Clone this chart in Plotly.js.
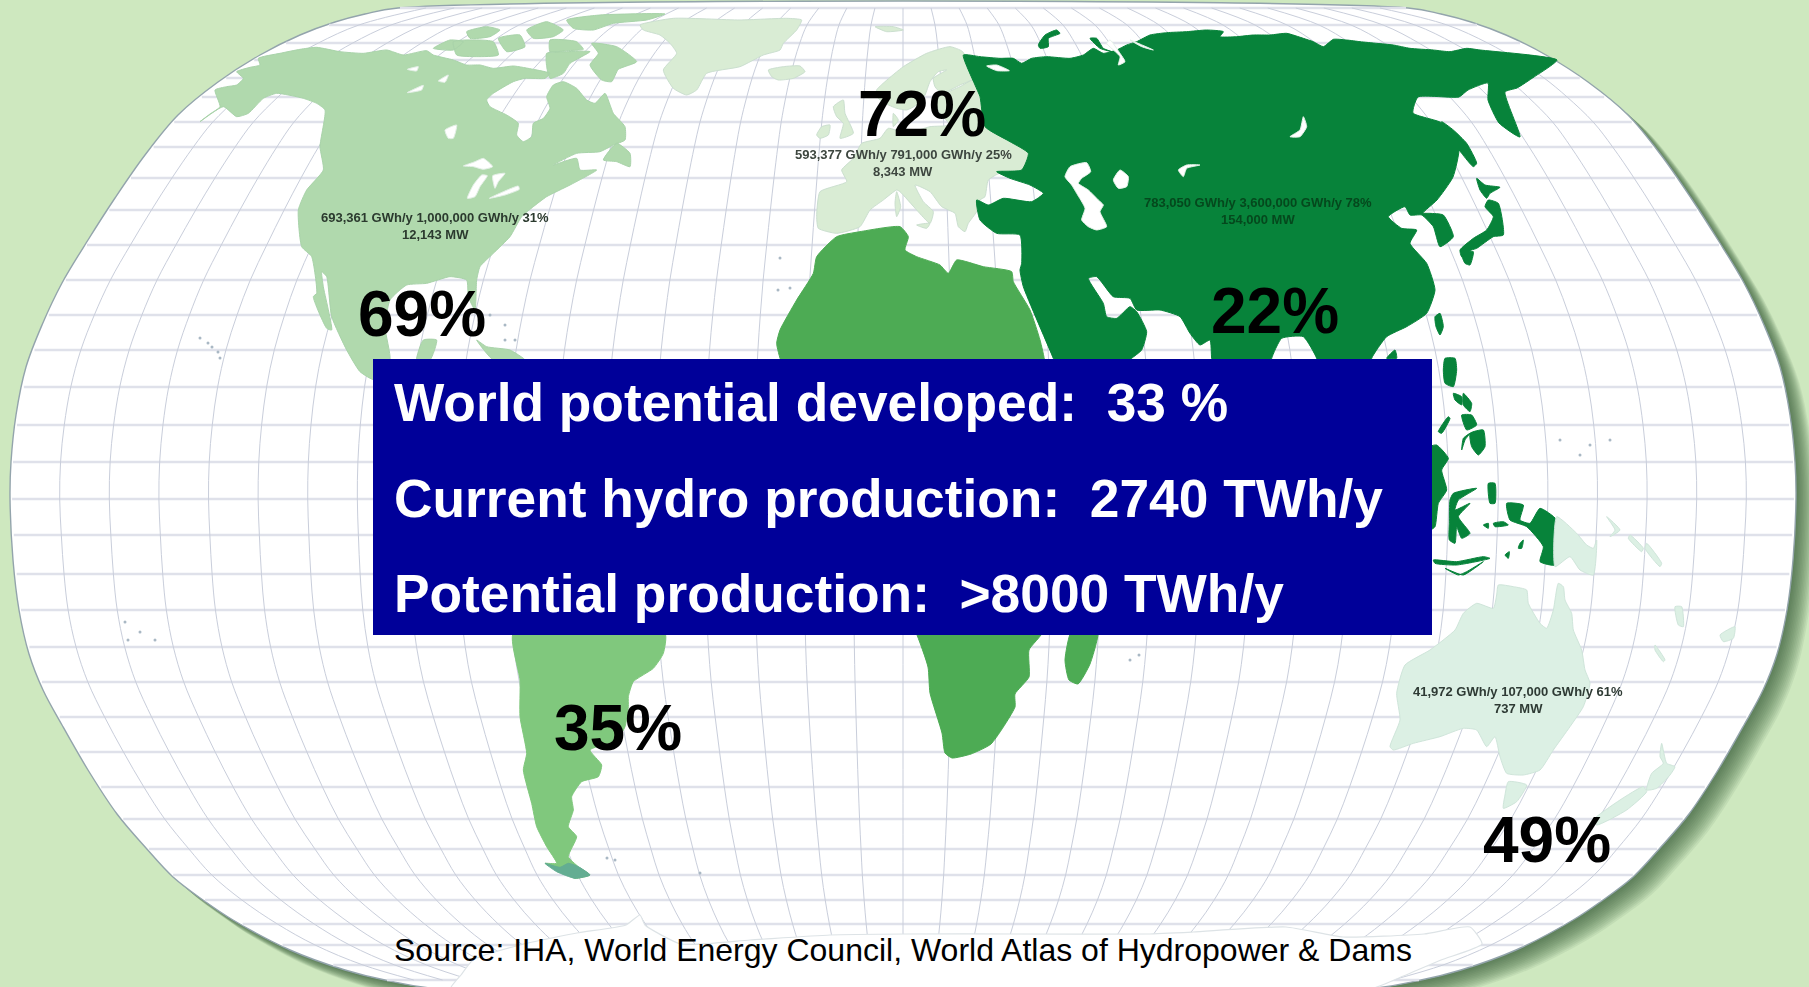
<!DOCTYPE html>
<html>
<head>
<meta charset="utf-8">
<title>World hydropower potential developed</title>
<script src="https://cdn.plot.ly/plotly-3.0.1.min.js"></script>
<style>
html,body{margin:0;padding:0;background:#cee8bf;overflow:hidden}
#map{width:1809px;height:987px}
</style>
</head>
<body>
<div id="map"></div>
<script>
// Outlines are digitised on sheets at 3 units per map unit; each sheet has its own origin.
const sheet = (ox, oy, pts) => pts.map(([x, y]) => [ox + x / 3, oy + y / 3]);

// Map frame: left edge of the rounded projection, top to bottom.
const frameLeft = [[398,8],[365,14],[335,22],[300,35],[260,55],[218,82],[178,115],[145,155],[115,198],[88,240],[62,283],[42,325],[26,367],[16,415],[11,462],[10,497],[13,560],[19,610],[29,654],[43,690],[62,725],[88,770],[117,814],[146,848],[173,877],[203,900],[233,920],[290,950],[345,970],[385,980],[450,990]];
const centreX = 903;
// Parallels, every 5 degrees.
const parallels = [8,25,43,60,78,97,122,147,178,210,245,280,315,350,387,425,462,499,535,574,610,647,682,717,752,787,819,849,875,900,924,945,965,980];
// Meridians, every 10 degrees.
const meridianLon = [-170,-160,-150,-140,-130,-120,-110,-100,-90,-80,-70,-60,-50,-40,-30,-20,-10,0,10,20,30,40,50,60,70,80,90,100,110,120,130,140,150,160,170];

const antarctica = [[450,990],[461,975],[473,960],[520,945],[577,933],[626,925],[640,915],[645,925],[681,944],[750,940],[830,935],[905,934],[1020,934],[1147,934],[1193,932],[1286,927],[1343,937],[1424,934],[1470,927],[1482,944],[1441,960],[1401,977],[1367,990]];

const northAmerica = [
  sheet(200,10,[[0,335],[30,312],[60,290],[45,240],[80,230],[110,225],[130,205],[110,185],[150,172],[180,165],[175,145],[240,130],[300,118],[350,112],[420,125],[490,130],[560,120],[610,135],[680,122],[700,135],[760,150],[800,165],[840,165],[880,175],[940,168],[1000,178],[1050,190],[1035,205],[975,205],[940,215],[880,250],[860,270],[870,290],[920,315],[955,340],[950,375],[970,395],[995,380],[1000,340],[1030,325],[1050,295],[1040,260],[1060,225],[1090,215],[1130,235],[1160,270],[1185,280],[1215,250],[1240,310],[1275,350],[1275,390],[1240,405],[1200,425],[1130,430],[1060,465],[1130,445],[1140,480],[1190,480],[1110,525],[1040,560],[1000,590],[965,620],[930,680],[880,730],[840,770],[830,810],[825,900],[805,860],[800,810],[750,800],[680,820],[620,825],[570,870],[555,950],[570,1050],[525,1110],[480,1085],[440,1020],[395,920],[380,800],[365,785],[370,830],[395,960],[380,955],[340,860],[350,850],[335,740],[305,710],[295,600],[320,540],[370,480],[360,410],[375,300],[350,280],[310,265],[230,250],[190,265],[145,310],[110,320],[70,290]]),
  // Arctic archipelago
  sheet(200,10,[[1175,100],[1250,110],[1310,155],[1255,178],[1235,215],[1205,210],[1170,165],[1195,130]]),
  sheet(200,10,[[1040,130],[1100,125],[1170,125],[1110,160],[1090,190],[1050,205],[1040,170]]),
  sheet(200,10,[[760,95],[880,95],[895,135],[830,140],[770,135]]),
  sheet(200,10,[[700,115],[750,90],[790,95],[760,120]]),
  sheet(200,10,[[800,65],[860,50],[900,60],[870,80],[810,85]]),
  sheet(200,10,[[895,85],[960,75],[975,110],[920,125]]),
  sheet(200,10,[[980,60],[1040,35],[1090,60],[1060,80],[1000,85]]),
  sheet(200,10,[[1050,90],[1130,95],[1150,118],[1100,122],[1050,125]]),
  sheet(200,10,[[1100,30],[1200,15],[1395,12],[1340,30],[1240,40],[1180,60],[1120,55]]),
  sheet(200,10,[[1210,450],[1250,400],[1290,430],[1290,470],[1250,455]]),
  sheet(200,10,[[650,1050],[670,990],[710,990],[690,1050]]),
  sheet(200,10,[[830,990],[860,1010],[930,1020],[975,1050],[880,1050]])
];

const northAmericaLakes = [
  sheet(200,10,[[790,468],[825,455],[850,445],[878,470],[850,478],[820,470]]),
  sheet(200,10,[[802,565],[820,525],[845,495],[862,497],[840,530],[825,560]]),
  sheet(200,10,[[878,497],[915,490],[895,515],[885,535]]),
  sheet(200,10,[[868,565],[910,545],[955,528],[958,538],[915,555]]),
  sheet(200,10,[[622,178],[655,170],[650,183]]),
  sheet(200,10,[[622,248],[670,226],[665,240]]),
  sheet(200,10,[[735,360],[770,345],[760,385],[745,385]]),
  sheet(200,10,[[715,213],[745,195],[735,217]])
];

const greenlandEurope = [
  sheet(640,10,[[0,45],[100,25],[300,30],[440,25],[485,30],[470,60],[430,100],[420,120],[370,135],[300,170],[200,190],[170,240],[140,255],[100,235],[70,180],[110,130],[90,100],[60,75],[10,60]]),
  sheet(640,10,[[385,180],[430,170],[480,168],[495,185],[460,205],[415,210],[395,200]]),
  sheet(640,10,[[580,290],[610,270],[615,310],[640,370],[600,385],[610,340],[590,320]]),
  sheet(640,10,[[530,375],[545,350],[570,345],[565,375],[540,385]]),
  sheet(640,10,[[705,50],[760,50],[790,60],[740,65]]),
  sheet(640,10,[[540,545],[620,515],[605,480],[640,445],[665,400],[720,385],[745,355],[800,370],[870,350],[930,345],[900,310],[885,270],[905,255],[960,230],[1000,210],[1040,250],[1040,350],[1130,400],[1180,440],[1170,490],[1130,490],[1090,485],[1045,510],[1035,560],[1020,570],[1010,605],[985,640],[975,665],[955,650],[945,610],[905,590],[870,545],[825,525],[850,575],[880,605],[870,640],[830,600],[780,545],[770,540],[730,570],[690,600],[660,650],[590,670],[535,655],[530,620]]),
  sheet(640,10,[[710,240],[735,215],[790,170],[860,130],[930,110],[968,125],[1000,205],[960,225],[905,250],[885,230],[880,205],[920,180],[895,185],[870,215],[855,255],[830,285],[800,300],[770,295],[735,280],[715,265]]),
  sheet(640,10,[[760,310],[775,330],[760,350]]),
  sheet(640,10,[[830,645],[870,640],[860,655]]),
  sheet(640,10,[[770,545],[782,590],[770,620],[765,580]])
];

const africa = [
  sheet(640,10,[[590,680],[660,665],[780,650],[805,680],[795,720],[830,740],[900,765],[925,790],[950,750],[1030,770],[1115,785],[1120,815],[1170,900],[1200,990],[1215,1060]])
    .concat([[1044,630],[1029,650],[1029,677],[1015,694],[1015,707],[991,744],[971,754],[952,758],[945,753],[942,733],[930,693],[928,667],[915,630]])
    .concat(sheet(640,10,[[425,1060],[410,1000],[420,960],[470,870],[520,790],[530,740]])),
  [[1072,630],[1098,630],[1090,664],[1078,684],[1069,680],[1065,660]]
];

const southAmerica = [
  sheet(500,630,[[40,10],[495,10],[490,70],[460,115],[400,155],[385,200],[385,230],[375,290],[350,330],[270,360],[305,405],[295,440],[245,455],[215,500],[220,540],[205,590],[230,620],[205,680],[235,710],[270,735],[225,745],[180,720],[135,700],[170,700],[140,650],[110,590],[95,520],[70,420],[80,370],[60,260],[60,150]])
];
const tierraDelFuego = [sheet(500,630,[[135,700],[180,712],[205,700],[235,710],[270,735],[225,745],[170,725]])];

const asia = [
  sheet(960,30,[[10,75],[60,80],[120,85],[160,85],[185,100],[215,85],[260,80],[330,85],[370,75],[400,55],[430,70],[470,60],[500,45],[530,35],[570,15],[620,8],[680,5],[740,0],[790,5],[780,20],[830,20],[880,15],[930,15],[980,10],[1030,25],[1060,35],[1090,50],[1120,28],[1160,30],[1200,35],[1250,40],[1300,45],[1350,55],[1420,60],[1470,65],[1520,55],[1560,60]])
    .concat([[1557,60],[1534,77],[1517,88],[1505,92],[1520,137],[1499,123],[1488,100],[1488,83],[1468,90],[1459,97],[1418,97],[1413,113],[1442,123],[1459,147],[1453,177],[1437,200],[1423,213]])
    .concat(sheet(1330,100,[[300,340],[340,345],[370,410],[330,440],[310,380],[275,345],[240,345],[225,320],[175,350],[215,385],[260,390],[240,430],[290,490],[315,570],[290,640],[230,680],[170,710],[125,775],[125,800]]))
    .concat(sheet(960,30,[[1070,1000],[1070,985],[1030,920],[965,925],[935,985],[935,1000],[760,1000],[755,985],[750,930],[720,945],[690,910],[660,860],[600,840],[530,840],[510,805],[460,800],[410,740],[385,745],[430,820],[440,860],[470,865],[510,830],[530,845],[560,905],[545,960],[515,985],[500,1000],[285,1000],[280,985],[190,770],[180,720],[185,700],[180,615],[110,610],[60,570],[50,510],[85,525],[130,505],[215,515],[250,490],[210,465],[150,445],[110,425],[185,420],[205,370],[150,335],[75,290],[60,200],[45,165]])),
  // Arctic islands
  sheet(960,30,[[235,45],[255,15],[290,0],[300,10],[265,25],[265,50],[240,55]]),
  sheet(960,30,[[390,25],[410,25],[430,55],[470,70],[490,85],[470,70],[420,55]]),
  // Pacific islands
  sheet(1330,100,[[335,65],[370,90],[410,130],[440,190],[430,200],[395,160],[360,110]]),
  sheet(1330,100,[[440,235],[465,255],[510,262],[480,280],[470,295],[450,270]]),
  sheet(1330,100,[[475,300],[505,310],[520,405],[490,410],[440,445],[425,450],[395,470],[390,450],[430,415],[470,390],[490,350],[465,320]]),
  sheet(1330,100,[[395,462],[430,455],[420,495],[405,490]]),
  sheet(1330,100,[[315,650],[330,640],[340,680],[330,705],[318,680]]),
  sheet(1330,100,[[170,775],[195,750],[200,775]]),
  sheet(1330,100,[[345,775],[375,775],[380,810],[370,860],[345,850],[340,810]]),
  sheet(1330,100,[[370,880],[395,890],[395,915],[375,900]]),
  sheet(1330,100,[[400,880],[425,910],[420,935],[400,915]]),
  sheet(1330,100,[[395,945],[425,945],[440,975],[410,990]]),
  sheet(1330,100,[[420,1000],[460,990],[465,1040],[445,1065],[425,1040]]),
  sheet(1330,100,[[325,995],[355,950],[360,955],[335,1000]]),
  sheet(1330,100,[[395,1050],[400,1015],[420,1000],[405,1020]]),
  sheet(1330,100,[[300,1040],[320,1035],[355,1075],[335,1110],[350,1170],[325,1210],[315,1280],[300,1290]]),
  sheet(1330,100,[[360,1200],[370,1180],[440,1165],[385,1200],[375,1230],[420,1210],[385,1250],[420,1300],[395,1315],[380,1280],[375,1330],[358,1320],[358,1270]]),
  sheet(1330,100,[[475,1150],[495,1150],[495,1210],[480,1210]]),
  sheet(1330,100,[[530,1210],[580,1215],[570,1260],[600,1270],[630,1225],[680,1260],[675,1395],[630,1385],[640,1340],[590,1280],[540,1260]]),
  sheet(1380,480,[[160,240],[230,245],[310,230],[330,235],[230,255],[165,250]]),
  sheet(1380,480,[[195,265],[250,285],[310,245],[260,275],[235,285]]),
  sheet(1380,480,[[310,135],[325,130],[325,145]]),
  sheet(1380,480,[[340,130],[370,125],[385,135],[345,140]]),
  sheet(1380,480,[[420,190],[430,180],[425,205],[415,205]]),
  sheet(1380,480,[[375,225],[388,215],[385,235]])
];

const asiaWaters = [
  sheet(960,30,[[315,440],[330,410],[380,398],[392,425],[365,445],[355,460],[385,480],[415,510],[430,525],[420,545],[440,590],[410,600],[385,590],[365,570],[375,535],[350,490],[335,465]]),
  sheet(960,30,[[460,450],[480,420],[505,440],[500,470],[475,475]]),
  sheet(960,30,[[655,420],[680,405],[720,405],[680,415],[670,440]]),
  sheet(960,30,[[990,320],[1020,300],[1030,260],[1040,290],[1020,320]]),
  sheet(960,30,[[80,108],[110,105],[148,122],[110,122]]),
  sheet(960,30,[[450,30],[480,70],[495,95],[475,105],[480,80],[440,40]]),
  sheet(960,30,[[510,30],[580,60],[545,50]])
];

const oceania = [
  sheet(1380,480,[[350,345],[355,315],[400,320],[440,330],[445,370],[480,430],[500,445],[520,390],[535,310],[550,320],[555,360],[575,400],[580,450],[605,510],[615,570],[630,610],[610,680],[570,740],[520,810],[480,870],[430,885],[380,880],[360,830],[345,770],[320,800],[290,750],[250,745],[180,770],[100,790],[40,810],[30,800],[60,720],[50,640],[75,555],[150,510],[225,450],[250,400],[290,370],[340,385]]),
  sheet(1380,480,[[385,905],[440,915],[410,965],[370,985],[375,945]]),
  sheet(1380,480,[[845,790],[860,850],[885,860],[870,885],[830,925],[800,930],[815,880],[850,850],[840,830]]),
  sheet(1380,480,[[790,920],[800,935],[740,990],[650,1035],[640,1020],[720,960]]),
  sheet(1380,480,[[530,110],[590,160],[620,195],[640,205],[650,180],[640,285],[600,270],[570,230],[525,260]]),
  sheet(1380,480,[[750,165],[790,205],[785,215],[745,175]]),
  sheet(1380,480,[[800,190],[845,250],[840,260],[795,205]]),
  sheet(1380,480,[[680,110],[720,150],[690,170],[705,150]]),
  sheet(1380,480,[[885,380],[905,380],[910,440],[895,435]]),
  sheet(1380,480,[[1020,465],[1065,440],[1060,475],[1030,485]]),
  sheet(1380,480,[[825,495],[855,540],[850,545],[825,510]])
];

// Scattered islands too small to outline.
const islandX = [200,208,212,218,220,125,140,155,128,490,505,515,505,780,778,790,700,607,615,1560,1590,1610,1580,1139,1130];
const islandY = [338,343,347,352,358,622,632,640,640,315,325,340,340,258,290,288,873,858,860,440,445,440,455,655,660];

// Share of the potential developed, per region.
const shareText = ['69%','72%','22%','35%','49%'];
const shareX = [422,922,1275,618,1547];
const shareY = [338,138,335,752,864];

// Production, potential and capacity notes, two lines per region.
const noteLine1 = ['693,361 GWh/y 1,000,000 GWh/y 31%','593,377 GWh/y 791,000 GWh/y 25%','783,050 GWh/y 3,600,000 GWh/y 78%','41,972 GWh/y 107,000 GWh/y 61%'];
const noteLine2 = ['12,143 MW','8,343 MW','154,000 MW','737 MW'];
const noteX = [435,903,1258,1518];
const noteY = [217,154,202,691];
const noteColor = ['#2b3a2e','#3d463f','#05481d','#2e3a34'];

const panelLines = ['World potential developed:\u00a0\u00a033 %','Current hydro production:\u00a0\u00a02740 TWh/y','Potential production:\u00a0\u00a0>8000 TWh/y'];
const panelBaselines = [421,517,612];
const sourceText = 'Source: IHA, World Energy Council, World Atlas of Hydropower &amp; Dams';

// Half-width of the map frame at a given height.
function halfWidth(y) {
  const f = frameLeft;
  if (y <= f[0][1]) return centreX - f[0][0];
  for (let i = 1; i < f.length; i++) {
    if (y <= f[i][1]) {
      const t = (y - f[i-1][1]) / (f[i][1] - f[i-1][1]);
      return centreX - (f[i-1][0] + t * (f[i][0] - f[i-1][0]));
    }
  }
  return centreX - f[f.length-1][0];
}

const frame = frameLeft.concat(frameLeft.slice().reverse().map(([x,y]) => [2*centreX - x, y]));

function flat(polys) {
  const x = [], y = [];
  polys.forEach((p, i) => {
    if (i) { x.push(null); y.push(null); }
    p.forEach(q => { x.push(q[0]); y.push(q[1]); });
    x.push(p[0][0]); y.push(p[0][1]);
  });
  return {x, y};
}

function area(polys, color, edge, width) {
  const d = flat(polys);
  return {type:'scatter', mode:'lines', x:d.x, y:d.y, fill:'toself', fillcolor:color,
          line:{color:edge || color, width:width === undefined ? 1 : width, shape:'spline', smoothing:0.5}, hoverinfo:'skip', showlegend:false};
}

const traces = [];

// Soft drop shadow under the frame, heaviest towards the lower right.
for (let i = 14; i >= 1; i--) {
  const d = flat([frame.map(([x,y]) => [x + i*1.4, y + i*1.2])]);
  traces.push({type:'scatter', mode:'lines', x:d.x, y:d.y, fill:'toself', fillcolor:'rgba(55,85,55,0.08)',
    line:{color:'rgba(0,0,0,0)', width:0, shape:'spline', smoothing:1}, hoverinfo:'skip', showlegend:false});
}

// Ocean
{
  const d = flat([frame]);
  traces.push({type:'scatter', mode:'lines', x:d.x, y:d.y, fill:'toself', fillcolor:'#ffffff',
    line:{color:'#93a4ac', width:1.4, shape:'spline', smoothing:1}, hoverinfo:'skip', showlegend:false});
}

// Graticule
const parX = [], parY = [];
parallels.forEach(y => {
  const h = halfWidth(y);
  parX.push(centreX - h + 2, centreX + h - 2, null);
  parY.push(y, y, null);
});
traces.push({type:'scatter', mode:'lines', x:parX, y:parY, line:{color:'#dfe1ea', width:2.6}, hoverinfo:'skip', showlegend:false});
const merX = [], merY = [];
meridianLon.forEach(lon => {
  parallels.forEach(y => { merX.push(centreX + lon/180*halfWidth(y)); merY.push(y); });
  merX.push(null); merY.push(null);
});
traces.push({type:'scatter', mode:'lines', x:merX, y:merY, line:{color:'#c9cedb', width:1, shape:'spline'}, hoverinfo:'skip', showlegend:false, connectgaps:false});

// Land
traces.push(area([antarctica], '#ffffff', '#dde3e6', 1.2));
traces.push(area(greenlandEurope, '#d9ecd4', '#cbdfcf'));
traces.push(area(northAmerica, '#b0d9ad', '#a9d3aa'));
traces.push(area(northAmericaLakes, '#ffffff', '#e3efe6'));
traces.push(area(africa, '#4dab54'));
traces.push(area(southAmerica, '#80c87d'));
traces.push(area(tierraDelFuego, '#63ad92'));
traces.push(area(asia, '#07833a'));
traces.push(area(asiaWaters, '#ffffff', '#e4f2e8'));
traces.push(area(oceania, '#dcf0e4', '#cfe5da'));
traces.push({type:'scatter', mode:'markers', x:islandX, y:islandY, marker:{size:3, color:'#a9b8c4'}, hoverinfo:'skip', showlegend:false});

const annotations = [];
const note = (text, x, y, size, color, anchor, bold) => annotations.push({
  text: bold ? '<b>' + text + '</b>' : text, x, y, xref:'x', yref:'y', xanchor:anchor, yanchor:'middle', showarrow:false, borderpad:0,
  font:{family:'"Liberation Sans", Arial, sans-serif', size, color}
});
shareText.forEach((t, i) => note(t, shareX[i], shareY[i] - 24, 64, '#000000', 'center', true));
const firstNote = annotations.length;
noteLine1.forEach((t, i) => {
  note(t, noteX[i], noteY[i], 13, noteColor[i], 'center', true);
  note(noteLine2[i], noteX[i], noteY[i] + 17.5, 13, noteColor[i], 'center', true);
});
const lastNote = annotations.length;
panelLines.forEach((t, i) => note(t, 393, panelBaselines[i] - 19, 53.3, '#ffffff', 'left', true));
note(sourceText, 393, 950, 32, '#000000', 'left', false);

const layout = {
  width:1809, height:987, margin:{l:0,r:0,t:0,b:0},
  paper_bgcolor:'#cee8bf', plot_bgcolor:'rgba(0,0,0,0)', hovermode:false, dragmode:false, showlegend:false,
  xaxis:{range:[0,1809], visible:false, fixedrange:true},
  yaxis:{range:[987,0], visible:false, fixedrange:true},
  shapes:[{type:'rect', xref:'x', yref:'y', x0:373, x1:1432, y0:359, y1:635, fillcolor:'#000099', line:{width:0}, layer:'above'}],
  annotations
};

Plotly.newPlot('map', traces, layout, {displayModeBar:false, staticPlot:true}).then(gd => {
  // The tiny regional notes are set slightly soft.
  gd.querySelectorAll('.annotation').forEach(a => {
    const i = +a.getAttribute('data-index');
    if (i >= firstNote && i < lastNote) a.style.filter = 'blur(0.45px)';
  });
});
</script>
</body>
</html>
